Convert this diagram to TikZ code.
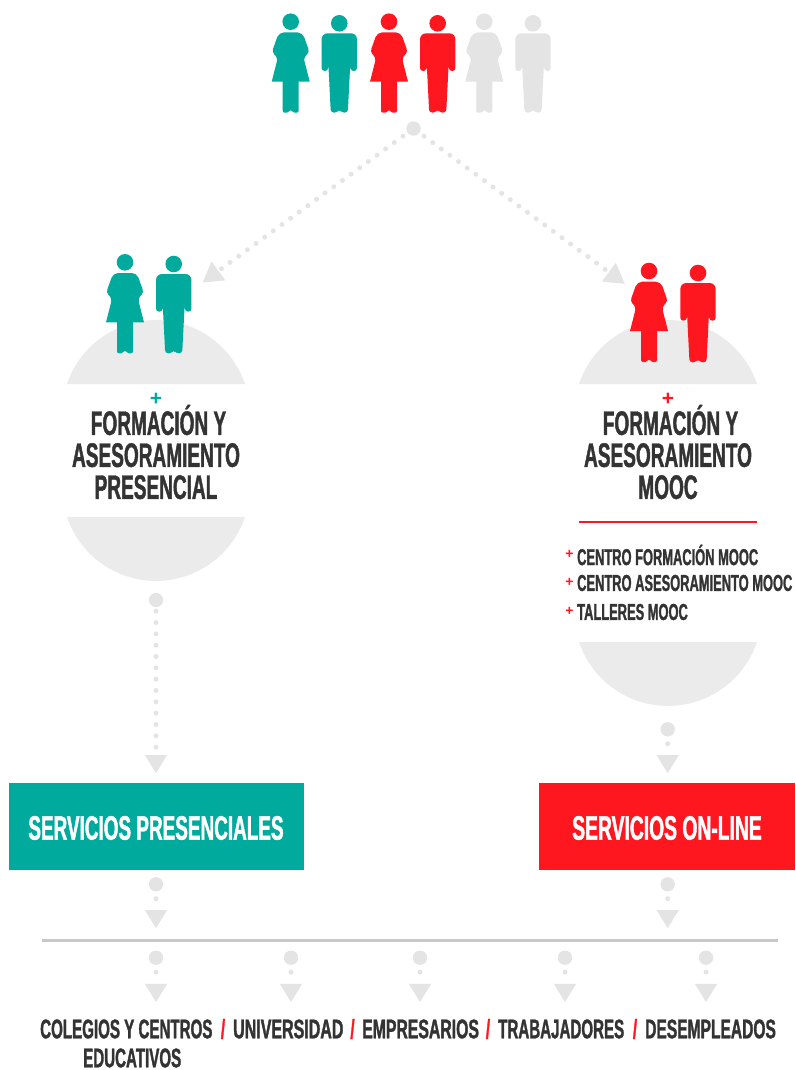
\documentclass[tikz,border=0pt]{standalone}
\usepackage{fontspec}
\usetikzlibrary{arrows.meta}
\newfontfamily\bebasfont[FakeStretch=0.56,FakeBold=1.2]{Liberation Sans}
\newfontfamily\plusfont{Liberation Sans}
\definecolor{mgreen}{HTML}{00AB9D}
\definecolor{mred}{HTML}{FF1720}
\definecolor{mgrey}{HTML}{E4E4E4}
\definecolor{mdome}{HTML}{EBEBEB}
\definecolor{mline}{HTML}{C8C8C8}
\definecolor{mtext}{HTML}{333333}
\tikzset{
    bigtext/.style = {inner sep=0pt, text=mtext, align=center, font=\bebasfont\bfseries\fontsize{34}{32}\selectfont},
    boxtext/.style = {inner sep=0pt, text=white, font=\bebasfont\bfseries\fontsize{33.8}{33}\selectfont},
    listtext/.style = {inner sep=0pt, anchor=west, text=mtext, font=\bebasfont\bfseries\fontsize{23}{23}\selectfont},
    endtext/.style = {inner sep=0pt, anchor=west, text=mtext, font=\bebasfont\bfseries\fontsize{27}{27}\selectfont},
    slash/.style = {inner sep=0pt, text=mred, font=\bebasfont\bfseries\fontsize{27}{27}\selectfont},
    plus/.style = {inner sep=0pt, font=\plusfont\bfseries\fontsize{21}{21}\selectfont},
    listplus/.style = {inner sep=0pt, text=mred, font=\plusfont\bfseries\fontsize{14}{14}\selectfont},
    dotnode/.style = {circle, fill=mgrey, minimum size=14.4pt, inner sep=0pt},
    shortline/.style = {draw=mgrey, line width=5pt, line cap=round, dash pattern=on 0pt off 14pt, dash phase=7pt, -{Triangle[length=18.5pt,width=21pt]}},
    longline/.style = {draw=mgrey, line width=5pt, line cap=round, dash pattern=on 0pt off 11.33pt, dash phase=7.5pt, -{Triangle[length=18.5pt,width=21pt]}},
    diagline/.style = {draw=mgrey, line width=5pt, line cap=round, dash pattern=on 0pt off 10.7pt, dash phase=5pt, -{Triangle[length=20pt,width=22pt]}},
    woman/.pic = {
        \fill[pic actions] (0,0) circle[radius=8.3];
        \fill[pic actions] (-15.1,20) [rounded corners=5pt] -- (-11.8,10.7) -- (11.8,10.7) -- (15.1,20) [rounded corners=3pt] -- (18.7,30) -- (13,36.5) [sharp corners] -- (19,60) -- (-19,60) [rounded corners=3pt] -- (-13,36.5) -- (-18.7,30) -- cycle;
        \fill[pic actions, rounded corners=2pt] (-8,55) -- (-8,91) -- (-1.8,91) -- (0,87.5) -- (1.8,91) -- (8,91) -- (8,55) -- cycle;
    },
    man/.pic = {
        \fill[pic actions] (0,0) circle[radius=8.3];
        \fill[pic actions] (-17.7,22) [rounded corners=6pt] -- (-17.7,10) -- (17.7,10) -- (17.7,22) [rounded corners=3pt] -- (17.7,47.7) -- (11.3,47.7) -- (11,40) -- (8.5,89.3) -- (1.8,89.3) -- (0,85.5) -- (-1.8,89.3) -- (-8.5,89.3) -- (-11,40) -- (-11.3,47.7) -- (-17.7,47.7) -- cycle;
    },
}

\begin{document}
\begin{tikzpicture}[x=1pt,y=-1pt]
    \useasboundingbox (0,0) rectangle (795,1070);

    \fill[mdome] (67,384) arc[start angle=198.6, end angle=341.4, radius=93.9] -- cycle;
    \fill[mdome] (67,517) arc[start angle=161.4, end angle=18.6, radius=93.9] -- cycle;
    \fill[mdome] (579,384) arc[start angle=198.6, end angle=341.4, radius=93.9] -- cycle;
    \fill[mdome] (579,642) arc[start angle=161.4, end angle=18.6, radius=93.9] -- cycle;

    \pic[fill=mgreen] (wa) at (290.7,21.7) {woman};
    \pic[fill=mgreen] (ma) at (339.3,23.3) {man};
    \pic[fill=mred] (wb) at (389,21.7) {woman};
    \pic[fill=mred] (mb) at (437.7,23.3) {man};
    \pic[fill=mgrey] (wc) at (484.3,21.7) {woman};
    \pic[fill=mgrey] (mc) at (533,23.3) {man};
    \pic[fill=mgreen] (wl) at (125,262.3) {woman};
    \pic[fill=mgreen] (ml) at (173.7,264) {man};
    \pic[fill=mred] (wr) at (649,271) {woman};
    \pic[fill=mred] (mr) at (698,273) {man};

    \node[dotnode] (top) at (413.5,128.5) {};
    \coordinate (lefttip) at (202.3,282.7);
    \coordinate (righttip) at (625,284);
    \draw[diagline] (top) -- (lefttip);
    \draw[diagline] (top) -- (righttip);

    \node[plus, text=mgreen] (plusl) at (156,399) {+};
    \node[plus, text=mred] (plusr) at (668,399) {+};
    \node[bigtext] (forml) at (156,452) {\hspace*{5pt}FORMACIÓN Y\\ASESORAMIENTO\\PRESENCIAL};
    \node[bigtext] (formr) at (668,452) {\hspace*{5pt}FORMACIÓN Y\\ASESORAMIENTO\\MOOC};

    \coordinate (rulea) at (579,522);
    \coordinate (ruleb) at (757,522);
    \draw[mred, line width=2.5pt] (rulea) -- (ruleb);

    \node[listplus] (pa) at (569.5,554.5) {+};
    \node[listplus] (pb) at (569.5,582.5) {+};
    \node[listplus] (pc) at (569.5,611.5) {+};
    \node[listtext] (la) at (577,555) {CENTRO FORMACIÓN MOOC};
    \node[listtext] (lb) at (577,583) {CENTRO ASESORAMIENTO MOOC};
    \node[listtext] (lc) at (577,612) {TALLERES MOOC};

    \node[dotnode] (dl) at (156,600) {};
    \node[dotnode] (dr) at (667.7,729.3) {};
    \coordinate (tl) at (156,773.5);
    \coordinate (tr) at (667.7,773.5);
    \draw[longline] (dl) -- (tl);
    \draw[shortline] (dr) -- (tr);

    \node[fill=mgreen, minimum width=295pt, minimum height=87pt, inner sep=0pt] (boxl) at (156.5,826.5) {};
    \node[fill=mred, minimum width=256pt, minimum height=87pt, inner sep=0pt] (boxr) at (667,826.5) {};
    \node[boxtext] (textl) at (156,828) {SERVICIOS PRESENCIALES};
    \node[boxtext] (textr) at (667,828) {\scalebox{1.02}[1]{SERVICIOS ON-LINE}};

    \node[dotnode] (ua) at (156,884.3) {};
    \node[dotnode] (ub) at (667.7,884.3) {};
    \coordinate (uta) at (156,928.5);
    \coordinate (utb) at (667.7,928.5);
    \draw[shortline] (ua) -- (uta);
    \draw[shortline] (ub) -- (utb);

    \coordinate (barl) at (42,940.5);
    \coordinate (barr) at (778,940.5);
    \draw[mline, line width=3pt] (barl) -- (barr);

    \node[dotnode] (va) at (156,957.7) {};
    \node[dotnode] (vb) at (291,957.7) {};
    \node[dotnode] (vc) at (420,957.7) {};
    \node[dotnode] (vd) at (565,957.7) {};
    \node[dotnode] (ve) at (706,957.7) {};
    \coordinate (vta) at (156,1002.3);
    \coordinate (vtb) at (291,1002.3);
    \coordinate (vtc) at (420,1002.3);
    \coordinate (vtd) at (565,1002.3);
    \coordinate (vte) at (706,1002.3);
    \draw[shortline] (va) -- (vta);
    \draw[shortline] (vb) -- (vtb);
    \draw[shortline] (vc) -- (vtc);
    \draw[shortline] (vd) -- (vtd);
    \draw[shortline] (ve) -- (vte);

    \node[endtext] (cole) at (40,1029) {COLEGIOS Y CENTROS};
    \node[slash] (sa) at (223,1029) {/};
    \node[endtext] (univ) at (233,1029) {\scalebox{1.058}[1]{UNIVERSIDAD}};
    \node[slash] (sb) at (352.5,1029) {/};
    \node[endtext] (empr) at (362,1029) {\scalebox{1.045}[1]{EMPRESARIOS}};
    \node[slash] (sc) at (488,1029) {/};
    \node[endtext] (trab) at (498,1029) {TRABAJADORES};
    \node[slash] (sd) at (635,1029) {/};
    \node[endtext] (dese) at (645,1029) {\scalebox{1.03}[1]{DESEMPLEADOS}};
    \node[endtext] (educ) at (83,1058) {EDUCATIVOS};
\end{tikzpicture}
\end{document}
